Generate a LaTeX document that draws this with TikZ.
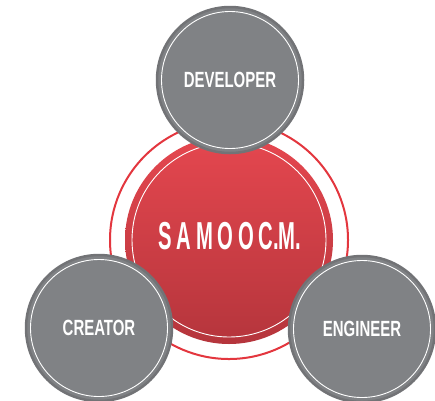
\documentclass[tikz,border=0pt]{standalone}
\usepackage{fontspec}
\setmainfont{Liberation Sans}
\definecolor{ringred}{HTML}{E3363E}
\definecolor{redtop}{HTML}{E5474F}
\definecolor{redbot}{HTML}{B5353C}
\definecolor{grayfill}{HTML}{808285}
\definecolor{grayedge}{HTML}{727376}
\begin{document}
\begin{tikzpicture}[x=1pt,y=-1pt,
  graycirc/.style={circle,fill=grayfill,draw=grayedge,line width=2.5pt,minimum size=146pt,inner sep=0pt},
  innerwhite/.style={circle,draw=white,line width=0.9pt,minimum size=137pt,inner sep=0pt},
  lbl/.style={text=white,font=\fontsize{22}{22}\selectfont\bfseries}]
\useasboundingbox (0,0) rectangle (435,400);
% outer red ring
\node[circle,draw=ringred,line width=2pt,minimum size=238pt,inner sep=0pt] (ring) at (229,240) {};
% central red disc
\node[circle,top color=redtop,bottom color=redbot,minimum size=208pt,inner sep=0pt] (core) at (229,240) {};
\node[circle,draw=white,line width=0.9pt,minimum size=194pt,inner sep=0pt] (coreline) at (229,240) {};
\node[text=white,font=\fontsize{39}{39}\selectfont\bfseries] (title) at (230,236)
  {\scalebox{0.52}[1]{S\hspace{9pt}A\hspace{9pt}M\hspace{9pt}O\hspace{9pt}O\hspace{9pt}C.M.}};
% satellites
\node[graycirc] (dev) at (230,80) {};
\node[innerwhite] (devw) at (dev.center) {};
\node[lbl] (devl) at (dev.center) {\scalebox{0.68}[1]{DEVELOPER}};
\node[graycirc] (cre) at (99,328) {};
\node[innerwhite] (crew) at (cre.center) {};
\node[lbl] (crel) at (cre.center) {\scalebox{0.68}[1]{CREATOR}};
\node[graycirc] (eng) at (362,329) {};
\node[innerwhite] (engw) at (eng.center) {};
\node[lbl] (engl) at (eng.center) {\scalebox{0.68}[1]{ENGINEER}};
\end{tikzpicture}
\end{document}
